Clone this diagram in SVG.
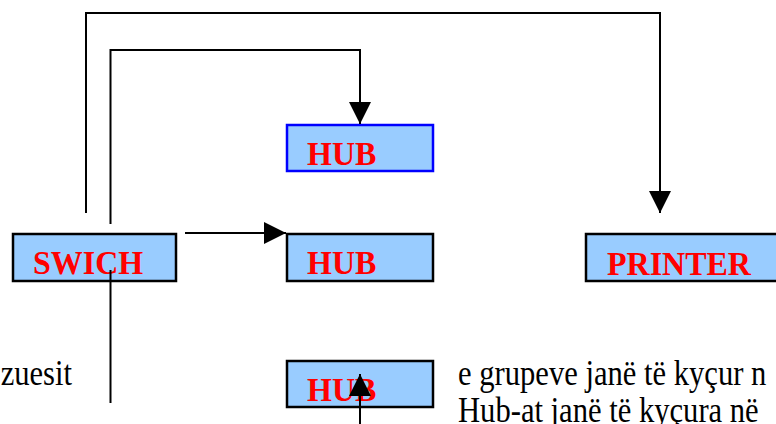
<svg xmlns="http://www.w3.org/2000/svg" width="776" height="424" viewBox="0 0 776 424">
<style>
.box{fill:#99ccff;stroke:#000;stroke-width:2.5}
.box.blue{stroke:#0000ff}
.lbl{font-family:"Liberation Serif","Times New Roman",serif;font-weight:bold;font-size:32px;fill:#ff0000}
.body{font-family:"Liberation Serif","Times New Roman",serif;font-size:30.6px;fill:#000}
.wire{fill:none;stroke:#000;stroke-width:2}
</style>
<defs>
<marker id="ah" viewBox="0 0 22 22" markerWidth="22" markerHeight="23" refX="22" refY="11" orient="auto" markerUnits="userSpaceOnUse">
<path d="M0,0 L22,11 L0,22 Z" fill="#000"/>
</marker>
</defs>
<rect width="776" height="424" fill="#fff"/>
<g id="text">
<text class="body" transform="translate(72,385) scale(1,1.17)" text-anchor="end">zuesit</text>
<text class="body" transform="translate(458,385) scale(1,1.17)">e grupeve janë të kyçur n</text>
<text class="body" transform="translate(458,422) scale(1,1.17)">Hub-at janë të kyçura në</text>
</g>
<g id="hub-top"><rect class="box blue" x="287" y="125" width="146" height="46"/><text class="lbl" transform="translate(307,165) scale(1,1.05)">HUB</text></g>
<g id="swich"><rect class="box" x="13" y="234" width="163" height="47"/><text class="lbl" transform="translate(33,274) scale(1,1.05)">SWICH</text></g>
<g id="hub-mid"><rect class="box" x="287" y="234" width="146" height="47"/><text class="lbl" transform="translate(307,274) scale(1,1.05)">HUB</text></g>
<g id="printer"><rect class="box" x="586" y="234" width="200" height="47"/><text class="lbl" transform="translate(607,275) scale(1,1.05)">PRINTER</text></g>
<g id="hub-bot"><rect class="box" x="287" y="361" width="146" height="46"/><text class="lbl" transform="translate(307,401) scale(1,1.05)">HUB</text></g>
<g id="connectors">
<polyline class="wire" points="86,213 86,13 660,13 660,213" marker-end="url(#ah)"/>
<polyline class="wire" points="110.5,224 110.5,50 360,50 360,124" marker-end="url(#ah)"/>
<line class="wire" x1="185" y1="233" x2="286" y2="233" marker-end="url(#ah)"/>
<line class="wire" x1="110.5" y1="270" x2="110.5" y2="403"/>
<line class="wire" x1="360" y1="424" x2="360" y2="374" marker-end="url(#ah)"/>
</g>
</svg>
